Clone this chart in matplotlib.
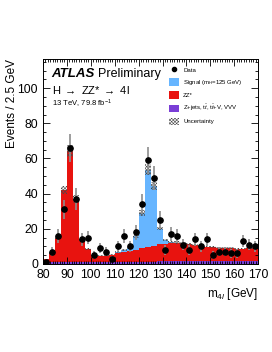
import numpy as np
import matplotlib.pyplot as plt
from matplotlib.patches import Patch
from matplotlib.lines import Line2D
from matplotlib.ticker import MultipleLocator

# 2.5 GeV bins from 80 to 170 GeV
BIN_EDGES = np.arange(80, 170.01, 2.5)

DATA = [1, 7, 16, 31, 66, 37, 14, 15, 5, 9, 7, 3, 10, 16, 10, 18, 34, 59,
        49, 25, 8, 17, 16, 11, 8, 14, 10, 14, 5, 7, 7, 6, 6, 13, 11, 10]

ZJETS = [0.8, 1.0, 1.2, 1.3, 1.4, 1.4, 1.3, 1.3, 1.3, 1.3, 1.3, 1.3, 1.4,
         1.4, 1.4, 1.4, 1.4, 1.4, 1.4, 1.5, 1.5, 1.5, 1.5, 1.5, 1.5, 1.5,
         1.5, 1.5, 1.5, 1.5, 1.5, 1.5, 1.5, 1.5, 1.5, 1.5]

ZZ = [2.0, 5.2, 13.8, 40.7, 62.9, 35.4, 12.7, 7.2, 3.7, 3.4, 3.4, 3.9, 4.8,
      5.6, 6.1, 6.7, 7.6, 8.2, 9.0, 9.6, 10.0, 10.4, 10.4, 10.2, 9.8, 9.3,
      8.9, 8.3, 7.9, 7.5, 7.4, 7.4, 7.0, 7.2, 7.5, 7.5]

SIGNAL = [0.0, 0.0, 0.0, 0.0, 0.0, 0.0, 0.0, 0.0, 0.0, 0.0, 0.1, 0.2, 0.8,
          0.9, 1.5, 7.6, 20.0, 44.0, 34.0, 9.0, 2.3, 0.6, 0.3, 0.2, 0.1, 0.1,
          0.1, 0.1, 0.1, 0.1, 0.1, 0.1, 0.1, 0.1, 0.1, 0.1]

UNC = [0.3, 0.5, 1.0, 2.4, 3.5, 2.2, 0.9, 0.6, 0.4, 0.4, 0.4, 0.4, 0.5,
       0.6, 0.6, 0.9, 1.6, 3.0, 2.4, 0.9, 0.6, 0.6, 0.6, 0.6, 0.6, 0.6,
       0.5, 0.5, 0.5, 0.5, 0.5, 0.5, 0.5, 0.5, 0.5, 0.5]

RED = "#e8130f"
BLUE = "#66b5ff"
PURPLE = "#7a3ed6"
HATCH_INK = "#4a4a4a"
HATCH = "x" * 10  # fine cross-hatch for the uncertainty band

plt.rcParams.update({
    "font.family": ["Liberation Sans", "DejaVu Sans"],
    "mathtext.fontset": "custom",
    "mathtext.rm": "Liberation Sans",
    "mathtext.it": "Liberation Sans:italic",
    "hatch.linewidth": 0.4,
})

fig = plt.figure(figsize=(2.72, 3.52), dpi=100)
ax = fig.add_axes([0.158, 0.25, 0.791, 0.582])

edges = BIN_EDGES
left = edges[:-1]
width = np.diff(edges)
centers = left + width / 2
zjets = np.array(ZJETS)
zz = np.array(ZZ)
sig = np.array(SIGNAL)
unc = np.array(UNC)
data = np.array(DATA)

ax.bar(left, zjets, width, align="edge", color=PURPLE, lw=0)
ax.bar(left, zz, width, bottom=zjets, align="edge", color=RED, lw=0)
ax.bar(left, sig, width, bottom=zjets + zz, align="edge", color=BLUE, lw=0)
total = zjets + zz + sig
ax.bar(left, 2 * unc, width, bottom=total - unc, align="edge", fill=False,
       hatch=HATCH, lw=0, edgecolor=HATCH_INK)

ax.errorbar(centers, data, yerr=np.sqrt(data), fmt="o", color="black",
            ecolor="#8c8c8c", elinewidth=1.2, markersize=3.8, capsize=0,
            zorder=5)

ax.set_xlim(80, 170)
ax.set_ylim(0, 116.5)
ax.xaxis.set_major_locator(MultipleLocator(10))
ax.xaxis.set_minor_locator(MultipleLocator(1))
ax.yaxis.set_major_locator(MultipleLocator(20))
ax.yaxis.set_minor_locator(MultipleLocator(5))
ax.tick_params(which="both", direction="in", top=True, right=True,
               labelsize=8.8, width=0.6)
ax.tick_params(which="major", length=5)
ax.tick_params(which="minor", length=2.5)
for s in ax.spines.values():
    s.set_linewidth(0.7)

ax.set_ylabel("Events / 2.5 GeV", fontsize=8.5, loc="top")
ax.yaxis.set_label_coords(-0.118, 1.0)
ax.set_xlabel(r"m$_{4l}$ [GeV]", fontsize=8.5, loc="right")

ax.text(0.04, 0.927, "ATLAS", transform=ax.transAxes, fontsize=9.5,
        fontweight="bold", fontstyle="italic", va="center")
ax.text(0.255, 0.927, "Preliminary", transform=ax.transAxes, fontsize=9,
        va="center")
ax.text(0.04, 0.85, r"H $\rightarrow$ ZZ* $\rightarrow$ 4l",
        transform=ax.transAxes, fontsize=8, va="center")
ax.text(0.04, 0.78, r"13 TeV, 79.8 fb$^{-1}$", transform=ax.transAxes,
        fontsize=5.5, va="center")

handles = [
    Line2D([], [], marker="o", color="black", ls="", markersize=3),
    Patch(facecolor=BLUE, lw=0),
    Patch(facecolor=RED, lw=0),
    Patch(facecolor=PURPLE, lw=0),
    Patch(facecolor="white", hatch=HATCH, edgecolor=HATCH_INK, lw=0),
]
labels = ["Data", r"Signal (m$_H$=125 GeV)", "ZZ*",
          r"Z+jets, t$\bar{t}$, t$\bar{t}$+V, VVV", "Uncertainty"]
leg = ax.legend(handles, labels, loc="upper left",
                bbox_to_anchor=(0.565, 0.985), fontsize=4.3, frameon=False,
                handlelength=1.8, handleheight=1.6, labelspacing=0.7,
                handletextpad=0.6, borderpad=0.2)

fig.savefig("out.png", dpi=100)
